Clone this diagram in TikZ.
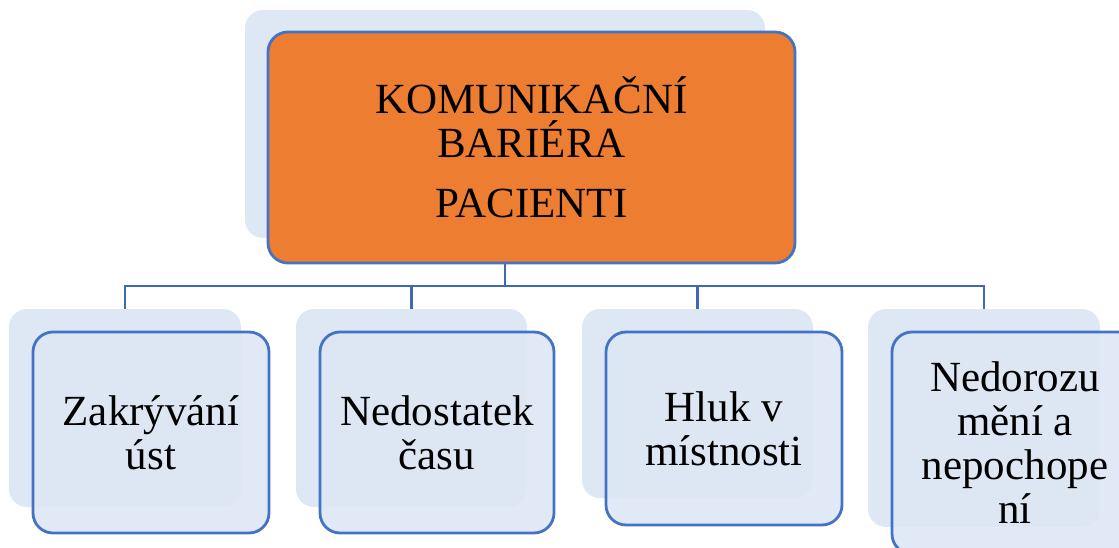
\documentclass[tikz,border=0pt]{standalone}
\usepackage{fontspec}
\setmainfont{Liberation Serif}
\usepackage{xcolor}
\usepackage{tikz}
\usetikzlibrary{positioning}
\definecolor{barOrange}{HTML}{ED7D31}
\definecolor{barEdge}{HTML}{4472C4}
\definecolor{barLink}{HTML}{4068B4}
\definecolor{barShade}{HTML}{DEE8F5}
\definecolor{barCard}{HTML}{DDE7F4}

\begin{document}
\begin{tikzpicture}[
  x=1pt, y=-1pt,
  every node/.style={inner sep=0pt,outer sep=0pt},
  shade/.style={rectangle,rounded corners=18pt,fill=barShade},
  card/.style={rectangle,rounded corners=20pt,draw=barEdge,line width=2.8pt,
               fill=barCard,fill opacity=0.9,text opacity=1,align=center,
               font=\fontsize{43}{44}\selectfont},
  link/.style={draw=barLink,line width=2.6pt},
]
  \useasboundingbox (0,0) rectangle (1119,548);

  % shadow cards
  \node[shade,minimum width=520,minimum height=228] (topback) at (505,124) {};
  \node[shade,minimum width=232,minimum height=198] (b1back) at (125,408) {};
  \node[shade,minimum width=231,minimum height=198] (b2back) at (411.5,408) {};
  \node[shade,minimum width=231,minimum height=189] (b3back) at (697.5,403.5) {};
  \node[shade,minimum width=232,minimum height=218] (b4back) at (984,418) {};

  % connectors
  \coordinate (bar) at (0,286);
  \draw[link] (topback.south) -- (topback.south |- bar);
  \draw[link] (b1back.north) |- (b4back.north |- bar) -- (b4back.north);
  \draw[link] (b2back.north) -- (b2back.north |- bar);
  \draw[link] (b3back.north) -- (b3back.north |- bar);

  % front cards
  \node[card,fill=barOrange,fill opacity=1,minimum width=527,minimum height=231]
        (top) at (531.5,147.5) {KOMUNIKAČNÍ\\BARIÉRA\\[16pt]PACIENTI};
  \node[card,minimum width=236,minimum height=201] (b1) at (151,432.5) {Zakrývání\\úst};
  \node[card,minimum width=234,minimum height=201] (b2) at (437,432.5) {Nedostatek\\času};
  \node[card,minimum width=236,minimum height=193] (b3) at (724,428.5) {Hluk v\\místnosti};
  \node[card,minimum width=246,minimum height=222] (b4) at (1015,443)
        {Nedorozu\\mění a\\nepochope\\ní};
\end{tikzpicture}
\end{document}
